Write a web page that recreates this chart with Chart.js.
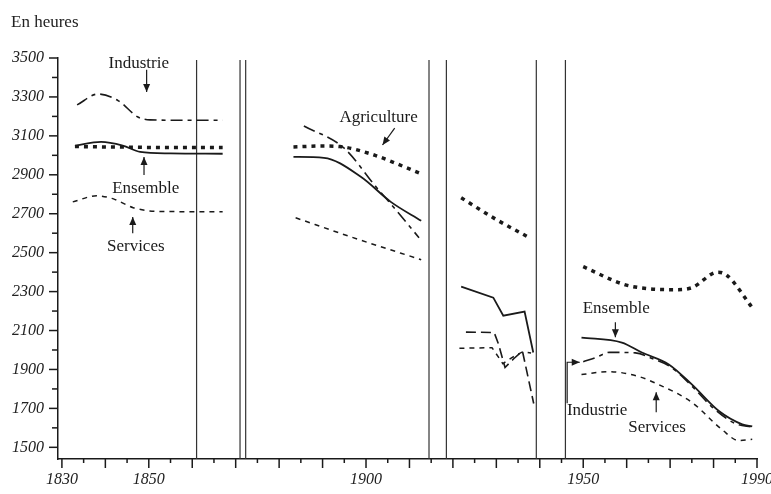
<!DOCTYPE html>
<html>
<head>
<meta charset="utf-8">
<script src="https://cdn.jsdelivr.net/npm/chart.js@4/dist/chart.umd.min.js"></script>
<style>
  body { margin: 0; background: #fff; }
  #wrap { position: relative; width: 771px; height: 494px; }
  #unit { position: absolute; left: 11px; top: 12px; font: 17px "Liberation Serif", serif; color: #222; }
</style>
</head>
<body>
<div id="wrap">
  <div id="unit">En heures</div>
  <canvas id="hoursChart"></canvas>
</div>
<script>
// smooth curves, null = break between periods
const ensembleYears = [1833, 1839, 1844, 1848, 1855, 1867, 1875, 1883.3, 1890.3, 1898.8, 1905.7, 1912.7, 1930, 1949.6, 1958.9, 1963.5, 1969.7, 1975, 1981.3, 1986.6, 1988.9];
const ensembleHours = [3049, 3069, 3050, 3018, 3010, 3008, null, 2992, 2987, 2890, 2761, 2664, null, 2064, 2038, 1987, 1926, 1823, 1685, 1618, 1607];

const agricultureYears = [1833, 1845, 1855, 1867, 1875, 1883.3, 1890, 1894, 1901, 1912.2, 1916, 1921.9, 1930, 1937.6, 1944, 1950, 1959.5, 1965, 1971, 1975, 1981, 1983, 1988.9];
const agricultureHours = [3045, 3042, 3040, 3040, null, 3043, 3048, 3045, 3008, 2910, null, 2782, 2670, 2577, null, 2428, 2336, 2315, 2310, 2320, 2400, 2385, 2218];

const industrieYears = [1833.5, 1838.3, 1843, 1847.5, 1850.3, 1860, 1867, 1875, 1885.7, 1894.9, 1902.3, 1905.3, 1912.2, 1930, 1950, 1953, 1956, 1962, 1966, 1970, 1975, 1980, 1985, 1988.9];
const industrieHours = [3259, 3315, 3280, 3197, 3182, 3180, 3180, null, 3151, 3038, 2838, 2761, 2577, null, 1940, 1962, 1988, 1985, 1955, 1915, 1815, 1700, 1622, 1604];

const servicesYears = [1832.5, 1838, 1842, 1846.4, 1852, 1867, 1875, 1883.8, 1898, 1912.7, 1930, 1949.6, 1955.8, 1962.7, 1967.3, 1975, 1981.9, 1985.8, 1988.9];
const servicesHours = [2761, 2792, 2775, 2731, 2712, 2710, null, 2679, 2570, 2464, null, 1874, 1889, 1864, 1823, 1731, 1592, 1535, 1541];

// 1920-1938: broken lines, no smoothing
const ensemble1920Years = [1921.9, 1929.3, 1931.6, 1936.5, 1938.5];
const ensemble1920Hours = [2325, 2269, 2176, 2197, 1987];
const industrie1920Years = [1923, 1929.5, 1930.5, 1932, 1934, 1936, 1938.6];
const industrie1920Hours = [2092, 2090, 2030, 1910, 1955, 1995, 1725];
const services1920Years = [1921.5, 1929, 1931.5, 1933.5, 1936, 1938];
const services1920Hours = [2009, 2012, 1930, 1960, 1990, 1985];

// vertical break lines
const breakYears = [1861, 1871, 1872.3, 1914.5, 1918.5, 1939.2, 1945.9];

const xTickLabels = [1830, 1850, 1900, 1950, 1990];
const yTickLabels = [1500, 1700, 1900, 2100, 2300, 2500, 2700, 2900, 3100, 3300, 3500];

// labels and arrows (data coords)
const notes = [
    { text: "Industrie", x: 1847.7, y: 3474 },
    { text: "Ensemble", x: 1849.3, y: 2832 },
    { text: "Services", x: 1847, y: 2529 },
    { text: "Agriculture", x: 1902.9, y: 3192 },
    { text: "Ensemble", x: 1957.6, y: 2215 },
    { text: "Industrie", x: 1953.2, y: 1691 },
    { text: "Services", x: 1967, y: 1603 }
];
const arrows = [
    [[1849.5, 3440], [1849.5, 3325]],
    [[1848.9, 2899], [1848.9, 2991]],
    [[1846.3, 2600], [1846.3, 2683]],
    [[1906.6, 3140], [1903.8, 3053]],
    [[1957.4, 2143], [1957.4, 2066]],
    [[1946.3, 1727], [1946.3, 1937], [1949.2, 1937]],
    [[1966.8, 1680], [1966.8, 1783]]
];

const toPoints = (xs, ys) => xs.map((x, i) => ({ x: x, y: ys[i] }));
const ink = "#1a1a1a";

function curve(xs, ys, dash, width, smooth) {
    return {
        data: toPoints(xs, ys),
        borderColor: ink,
        borderWidth: width,
        borderDash: dash,
        pointRadius: 0,
        spanGaps: false,
        tension: smooth ? 0.4 : 0,
        cubicInterpolationMode: smooth ? "monotone" : "default"
    };
}

const datasets = [
    curve(ensembleYears, ensembleHours, [], 1.8, true),
    curve(agricultureYears, agricultureHours, [4, 5], 3.5, true),
    curve(industrieYears, industrieHours, [12, 5, 4, 5], 1.6, true),
    curve(servicesYears, servicesHours, [5, 5], 1.5, true),
    curve(ensemble1920Years, ensemble1920Hours, [], 1.8, false),
    curve(industrie1920Years, industrie1920Hours, [10, 5], 1.6, false),
    curve(services1920Years, services1920Hours, [5, 5], 1.5, false)
];
breakYears.forEach(yr => {
    datasets.push({
        data: [{ x: yr, y: 1440 }, { x: yr, y: 3490 }],
        borderColor: "#333",
        borderWidth: 1.2,
        pointRadius: 0
    });
});

const annotate = {
    id: "annotate",
    afterDraw(chart) {
        const ctx = chart.ctx;
        const xs = chart.scales.x, ys = chart.scales.y;
        const px = v => xs.getPixelForValue(v), py = v => ys.getPixelForValue(v);
        ctx.save();
        ctx.strokeStyle = ink;
        ctx.fillStyle = ink;
        ctx.lineWidth = 1.5;

        // minor and major ticks
        const left = chart.chartArea.left, bottom = chart.chartArea.bottom;
        for (let v = 1500; v <= 3500; v += 100) {
            const len = (v - 1500) % 200 === 0 ? 9 : 6;
            ctx.beginPath();
            ctx.moveTo(left, py(v));
            ctx.lineTo(left - len, py(v));
            ctx.stroke();
        }
        for (let v = 1830; v <= 1990; v += 5) {
            const len = v % 10 === 0 ? 9 : 4;
            ctx.beginPath();
            ctx.moveTo(px(v), bottom);
            ctx.lineTo(px(v), bottom + len);
            ctx.stroke();
        }

        // arrows
        ctx.lineWidth = 1.2;
        arrows.forEach(path => {
            ctx.beginPath();
            path.forEach((p, i) => {
                if (i === 0) ctx.moveTo(px(p[0]), py(p[1]));
                else ctx.lineTo(px(p[0]), py(p[1]));
            });
            ctx.stroke();
            const a = path[path.length - 2], b = path[path.length - 1];
            const bx = px(b[0]), by = py(b[1]);
            const ang = Math.atan2(by - py(a[1]), bx - px(a[0]));
            ctx.beginPath();
            ctx.moveTo(bx, by);
            ctx.lineTo(bx - 8 * Math.cos(ang) + 3.5 * Math.sin(ang), by - 8 * Math.sin(ang) - 3.5 * Math.cos(ang));
            ctx.lineTo(bx - 8 * Math.cos(ang) - 3.5 * Math.sin(ang), by - 8 * Math.sin(ang) + 3.5 * Math.cos(ang));
            ctx.closePath();
            ctx.fill();
        });

        // series labels
        ctx.font = '17px "Liberation Serif", serif';
        ctx.textAlign = "center";
        ctx.textBaseline = "middle";
        notes.forEach(n => ctx.fillText(n.text, px(n.x), py(n.y)));
        ctx.restore();
    }
};

new Chart(document.getElementById("hoursChart"), {
    type: "line",
    data: { datasets },
    options: {
        responsive: true,
        maintainAspectRatio: false,
        animation: false,
        layout: { padding: { top: 58, right: 0, left: 0, bottom: 0 } },
        plugins: { legend: { display: false }, tooltip: { enabled: false } },
        scales: {
            x: {
                type: "linear",
                min: 1829.1,
                max: 1990,
                afterBuildTicks: s => { s.ticks = xTickLabels.map(v => ({ value: v })); },
                afterFit: s => { s.height = 35; s.paddingLeft = 0; s.paddingRight = 14; },
                grid: { display: false, drawTicks: false },
                border: { display: true, color: ink, width: 1.5 },
                ticks: {
                    padding: 11,
                    maxRotation: 0,
                    autoSkip: false,
                    color: "#222",
                    font: { family: "Liberation Serif", size: 16, style: "italic" },
                    callback: v => String(v)
                }
            },
            y: {
                min: 1440,
                max: 3500,
                afterBuildTicks: s => { s.ticks = yTickLabels.map(v => ({ value: v })); },
                afterFit: s => { s.width = 58; },
                grid: { display: false, drawTicks: false },
                border: { display: true, color: ink, width: 1.5 },
                ticks: {
                    padding: 14,
                    autoSkip: false,
                    color: "#222",
                    font: { family: "Liberation Serif", size: 16, style: "italic" },
                    callback: v => String(v)
                }
            }
        }
    },
    plugins: [annotate]
});
</script>
</body>
</html>
